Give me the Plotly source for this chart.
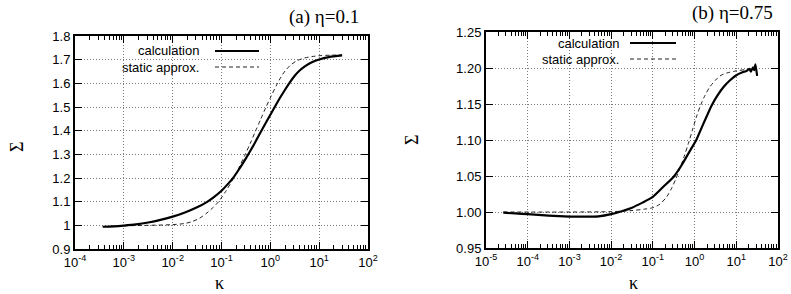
import plotly.graph_objects as go

W, H = 791, 294

# ---------------- data: panel (a) eta = 0.1 ----------------
kappa_a_calc = [3.7e-4, 6.3e-4, 1e-3, 1.78e-3, 3.16e-3, 5.62e-3, 1e-2, 1.78e-2, 3.16e-2, 5.0e-2,
                7.08e-2, 0.1, 0.133, 0.178, 0.237, 0.316, 0.447, 0.631, 1.0, 1.58,
                2.0, 2.51, 3.16, 3.98, 5.01, 7.08, 10.0, 15.8, 29.5]
sigma_a_calc = [0.994, 0.996, 0.999, 1.004, 1.012, 1.023, 1.037, 1.054, 1.076, 1.098,
                1.120, 1.146, 1.173, 1.204, 1.242, 1.283, 1.336, 1.393, 1.467, 1.539,
                1.573, 1.604, 1.632, 1.654, 1.671, 1.689, 1.701, 1.711, 1.718]

kappa_a_static = [3.7e-4, 1e-3, 3.16e-3, 1e-2, 1.78e-2, 2.51e-2, 3.55e-2, 5.0e-2, 6.61e-2, 8.71e-2,
                  0.126, 0.175, 0.229, 0.302, 0.389, 0.49, 0.631, 0.805, 1.05, 1.35,
                  1.66, 2.0, 2.63, 3.47, 5.01, 7.08, 10.5, 17.8, 29.5]
sigma_a_static = [0.995, 0.998, 1.000, 1.003, 1.008, 1.016, 1.030, 1.052, 1.074, 1.100,
                  1.148, 1.198, 1.245, 1.297, 1.347, 1.395, 1.447, 1.497, 1.548, 1.594,
                  1.627, 1.652, 1.678, 1.695, 1.707, 1.713, 1.717, 1.719, 1.720]

# ---------------- data: panel (b) eta = 0.75 ----------------
kappa_b_calc = [2.6e-5, 5.0e-5, 1e-4, 3.16e-4, 1e-3, 2.51e-3, 5.01e-3, 1e-2, 1.78e-2, 3.16e-2,
                5.62e-2, 0.1, 0.178, 0.316, 0.501, 0.794, 1.1, 1.58, 2.57, 3.55,
                5.01, 7.08, 10.0, 14.1, 17.8, 20.4, 22.4, 25.1, 26.9, 28.8, 31.6]
sigma_b_calc = [0.999, 0.998, 0.997, 0.995, 0.9937, 0.9935, 0.994, 0.997, 1.001, 1.006,
                1.013, 1.021, 1.035, 1.049, 1.066, 1.086, 1.100, 1.121, 1.148, 1.162,
                1.174, 1.183, 1.190, 1.194, 1.196, 1.199, 1.195, 1.201, 1.197, 1.205, 1.189]

kappa_b_static = [2.6e-5, 1e-3, 1e-2, 3.16e-2, 6.31e-2, 0.1, 0.148, 0.214, 0.282, 0.355,
                  0.447, 0.562, 0.708, 0.891, 1.12, 1.41, 1.78, 2.34, 3.16, 4.07,
                  5.89, 10.0, 17.8, 25.1]
sigma_b_static = [1.000, 1.000, 1.0005, 1.002, 1.004, 1.006, 1.011, 1.021, 1.033, 1.046,
                  1.061, 1.077, 1.095, 1.114, 1.133, 1.149, 1.162, 1.174, 1.183, 1.189,
                  1.193, 1.196, 1.198, 1.199]

# ---------------- ticks ----------------
xtick_a_vals = [1e-4, 1e-3, 1e-2, 1e-1, 1e0, 1e1, 1e2]
xtick_a_text = ["10<sup>-4</sup>", "10<sup>-3</sup>", "10<sup>-2</sup>", "10<sup>-1</sup>",
                "10<sup>0</sup>", "10<sup>1</sup>", "10<sup>2</sup>"]
xtick_b_vals = [1e-5, 1e-4, 1e-3, 1e-2, 1e-1, 1e0, 1e1, 1e2]
xtick_b_text = ["10<sup>-5</sup>", "10<sup>-4</sup>", "10<sup>-3</sup>", "10<sup>-2</sup>",
                "10<sup>-1</sup>", "10<sup>0</sup>", "10<sup>1</sup>", "10<sup>2</sup>"]
ytick_a_vals = [0.9, 1.0, 1.1, 1.2, 1.3, 1.4, 1.5, 1.6, 1.7, 1.8]
ytick_a_text = ["0.9", "1", "1.1", "1.2", "1.3", "1.4", "1.5", "1.6", "1.7", "1.8"]
ytick_b_vals = [0.95, 1.00, 1.05, 1.10, 1.15, 1.20, 1.25]
ytick_b_text = ["0.95", "1.00", "1.05", "1.10", "1.15", "1.20", "1.25"]

series_names = ["calculation", "static approx."]
titles = ["(a) \u03b7=0.1", "(b) \u03b7=0.75"]


def minor_vals(lo, hi):
    return [m * 10.0 ** e for e in range(lo, hi) for m in range(2, 10)]


SOLID = dict(color="black", width=2.2, shape="spline", smoothing=0.8)
DASH = dict(color="#222222", width=1, dash="4px,3px", shape="spline", smoothing=0.8)

fig = go.Figure()
fig.add_trace(go.Scatter(x=kappa_a_static, y=sigma_a_static, mode="lines", line=DASH,
                         xaxis="x", yaxis="y", showlegend=False, hoverinfo="skip"))
fig.add_trace(go.Scatter(x=kappa_a_calc, y=sigma_a_calc, mode="lines", line=SOLID,
                         xaxis="x", yaxis="y", showlegend=False, hoverinfo="skip"))
fig.add_trace(go.Scatter(x=kappa_b_static, y=sigma_b_static, mode="lines", line=DASH,
                         xaxis="x2", yaxis="y2", showlegend=False, hoverinfo="skip"))
fig.add_trace(go.Scatter(x=kappa_b_calc, y=sigma_b_calc, mode="lines",
                         line=dict(color="black", width=2.2, shape="spline", smoothing=0.5),
                         xaxis="x2", yaxis="y2", showlegend=False, hoverinfo="skip"))

TICKFONT = dict(family="Liberation Sans, Arial, sans-serif", size=13, color="black")
GRID = dict(showgrid=True, gridcolor="#7a7a7a", gridwidth=1, griddash="1px,2px")


def xaxis(domain, anchor, rng, vals, text, lo, hi):
    return dict(domain=domain, anchor=anchor, type="log", range=rng, automargin=False,
                tickmode="array", tickvals=vals, ticktext=text,
                ticks="inside", ticklen=7, tickwidth=1, tickcolor="black",
                showline=True, linecolor="black", linewidth=2, mirror="ticks",
                tickfont=TICKFONT, zeroline=False,
                minor=dict(tickmode="array", tickvals=minor_vals(lo, hi), ticks="inside",
                           ticklen=4, tickwidth=1, tickcolor="black", showgrid=False),
                **GRID)


def yaxis(domain, anchor, rng, vals, text):
    return dict(domain=domain, anchor=anchor, range=rng, automargin=False,
                tickmode="array", tickvals=vals, ticktext=text,
                ticks="inside", ticklen=7, tickwidth=1, tickcolor="black",
                showline=True, linecolor="black", linewidth=2, mirror="ticks",
                tickfont=TICKFONT, zeroline=False, **GRID)


fig.update_layout(
    width=W, height=H,
    margin=dict(l=0, r=0, t=0, b=0, pad=0, autoexpand=False),
    paper_bgcolor="white", plot_bgcolor="white",
    xaxis=xaxis([75 / W, 368 / W], "y", [-4, 2], xtick_a_vals, xtick_a_text, -4, 2),
    yaxis=yaxis([1 - 249 / H, 1 - 36 / H], "x", [0.9, 1.8], ytick_a_vals, ytick_a_text),
    xaxis2=xaxis([486 / W, 778 / W], "y2", [-5, 2], xtick_b_vals, xtick_b_text, -5, 2),
    yaxis2=yaxis([1 - 248 / H, 1 - 32 / H], "x2", [0.95, 1.25], ytick_b_vals, ytick_b_text),
)

SERIF = "Liberation Serif, Times New Roman, serif"
LEGFONT = dict(family="Liberation Sans, Arial, sans-serif", size=13, color="black")

ann = []
shapes = []


def px(x, y):
    return x / W, 1 - y / H


# panel titles
for (x, y), t in zip([(361, 17), (775, 13)], titles):
    X, Y = px(x, y)
    ann.append(dict(x=X, y=Y, xref="paper", yref="paper", text=t, showarrow=False,
                    xanchor="right", yanchor="middle", font=dict(family=SERIF, size=19, color="black")))

# axis titles
for (x, y) in [(17, 147), (412, 140)]:
    X, Y = px(x, y)
    ann.append(dict(x=X, y=Y, xref="paper", yref="paper", text="\u03a3", showarrow=False,
                    textangle=-90, xanchor="center", yanchor="middle",
                    font=dict(family=SERIF, size=18, color="black")))
for (x, y) in [(219, 283), (633, 283)]:
    X, Y = px(x, y)
    ann.append(dict(x=X, y=Y, xref="paper", yref="paper", text="\u03ba", showarrow=False,
                    xanchor="center", yanchor="middle",
                    font=dict(family=SERIF, size=18, color="black")))

# legend boxes (opaque, hide grid) and keys
legends = [
    dict(box=(77, 37, 264, 76), tx=201, ys=(51, 67), lx=(215, 259)),
    dict(box=(488, 33, 686, 68), tx=621, ys=(43, 59), lx=(630, 676)),
]
for lg in legends:
    x0, y0 = px(lg["box"][0], lg["box"][3])
    x1, y1 = px(lg["box"][2], lg["box"][1])
    shapes.append(dict(type="rect", xref="paper", yref="paper", x0=x0, x1=x1, y0=y0, y1=y1,
                       fillcolor="white", line=dict(width=0), layer="between"))
    for i, (yy, name) in enumerate(zip(lg["ys"], series_names)):
        X, Y = px(lg["tx"], yy)
        ann.append(dict(x=X, y=Y, xref="paper", yref="paper", text=name, showarrow=False,
                        xanchor="right", yanchor="middle", font=LEGFONT))
        a, b = px(lg["lx"][0], yy)
        c, _ = px(lg["lx"][1], yy)
        ln = dict(color="black", width=2.2) if i == 0 else dict(color="#222222", width=1, dash="4px,3px")
        shapes.append(dict(type="line", xref="paper", yref="paper", x0=a, x1=c, y0=b, y1=b,
                           line=ln, layer="above"))

fig.update_layout(annotations=ann, shapes=shapes)
fig.write_html("out.html", config={"displayModeBar": False},
               post_script="document.body.style.margin='0';document.body.style.overflow='hidden';")
